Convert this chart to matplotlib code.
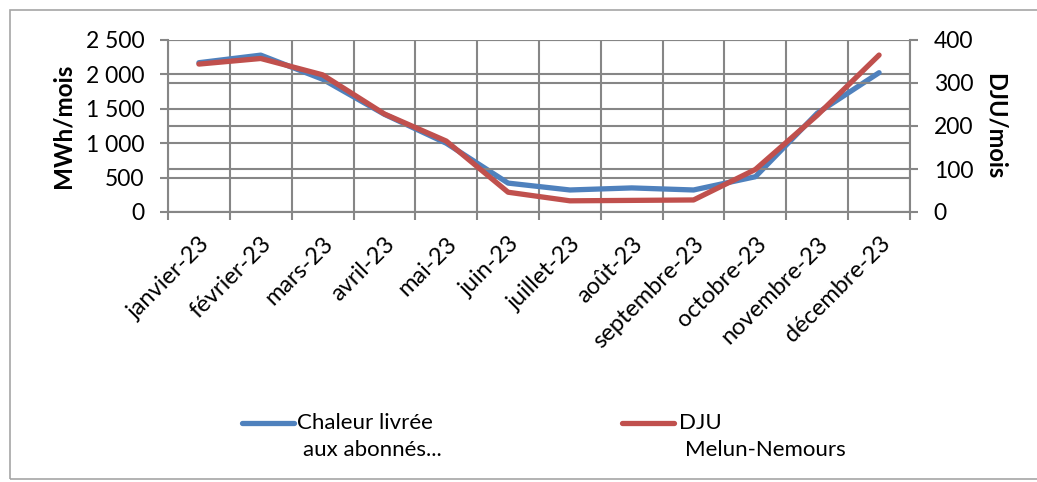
import matplotlib
matplotlib.use("Agg")
import matplotlib.pyplot as plt
import matplotlib.transforms as mtransforms
from matplotlib.lines import Line2D
from matplotlib.patches import Rectangle
from matplotlib.ticker import FuncFormatter, FixedLocator

months = ["janvier-23", "février-23", "mars-23", "avril-23", "mai-23", "juin-23",
          "juillet-23", "août-23", "septembre-23", "octobre-23", "novembre-23", "décembre-23"]
chaleur = [2170, 2280, 1930, 1420, 1000, 420, 320, 350, 320, 513, 1436, 2025]
dju = [344, 357, 319, 228, 165, 46, 26, 27, 28, 99, 225, 365]

left_ticks = [0, 500, 1000, 1500, 2000, 2500]
right_ticks = [0, 100, 200, 300, 400]

plt.rcParams['font.family'] = ['Lato', 'DejaVu Sans']
BLUE = "#4F81BD"
RED = "#C0504D"
GRID = "#868686"
FS = 16.5

fig = plt.figure(figsize=(10.37, 4.82), dpi=100)
ax = fig.add_axes([168/1037, 1-212/482, (910-168)/1037, (212-40)/482])
ax2 = ax.twinx()

x = list(range(len(months)))
ax.plot(x, chaleur, color=BLUE, lw=3.8, solid_capstyle='round', zorder=3)
ax2.plot(x, dju, color=RED, lw=3.8, solid_capstyle='round', zorder=3)

ax.set_xlim(-0.5, len(months)-0.5)
ax.set_ylim(0, 2500)
ax2.set_ylim(0, 400)

ax.set_yticks(left_ticks)
ax.yaxis.set_major_formatter(FuncFormatter(lambda v, p: f"{int(v):,}".replace(",", " ")))
ax2.set_yticks(right_ticks)

ax.xaxis.set_major_locator(FixedLocator([i-0.5 for i in range(len(months)+1)]))
ax.set_xticklabels([])
ax.xaxis.set_minor_locator(FixedLocator(x))
ax.set_xticklabels(months, minor=True, rotation=45, ha='right', va='top',
                   rotation_mode='anchor', fontsize=17)
shift = mtransforms.ScaledTranslation(-5/100, 0, fig.dpi_scale_trans)
for lab in ax.get_xticklabels(minor=True):
    lab.set_transform(lab.get_transform() + shift)
ax.tick_params(axis='x', which='minor', length=0, pad=15)
ax.tick_params(axis='x', which='major', length=6, width=1.5, color=GRID)
ax.tick_params(axis='y', length=6, width=1.5, color=GRID, labelsize=FS, pad=11)
ax2.tick_params(axis='y', length=6, width=1.5, color=GRID, labelsize=FS, pad=11)

ax.grid(True, which='major', axis='both', color=GRID, lw=1.5)
ax2.grid(True, axis='y', color=GRID, lw=1.5)
ax.set_axisbelow(True)
ax2.set_axisbelow(True)
for a in (ax, ax2):
    for s in ['top', 'right', 'left', 'bottom']:
        a.spines[s].set_visible(False)
for a, s in ((ax, 'left'), (ax, 'bottom'), (ax2, 'right')):
    a.spines[s].set_visible(True)
    a.spines[s].set_color(GRID)
    a.spines[s].set_linewidth(1.5)

ax.set_ylabel("MWh/mois", fontsize=17.5, fontweight='bold', labelpad=8)
ax2.set_ylabel("DJU/mois", fontsize=17, fontweight='bold', rotation=-90, labelpad=24)

# legend
W, H = 1037, 482
def fx(px): return px / W
def fy(py): return 1 - py / H
LFS = 16
fig.add_artist(Line2D([fx(242), fx(294)], [fy(423), fy(423)], color=BLUE, lw=3.8, solid_capstyle='round'))
fig.text(fx(297), fy(423), "Chaleur livrée", fontsize=LFS, va='center', ha='left')
fig.text(fx(303), fy(450), "aux abonnés...", fontsize=LFS, va='center', ha='left')
fig.add_artist(Line2D([fx(622), fx(674)], [fy(423), fy(423)], color=RED, lw=3.8, solid_capstyle='round'))
fig.text(fx(679), fy(423), "DJU", fontsize=LFS, va='center', ha='left')
fig.text(fx(685), fy(450), "Melun-Nemours", fontsize=LFS, va='center', ha='left')

fig.add_artist(Rectangle((fx(10), fy(479)), fx(1040) - fx(10), fy(10) - fy(479),
                         fill=False, edgecolor="#A6A6A6", lw=1.2, transform=fig.transFigure))

fig.savefig("out.png", dpi=100)
